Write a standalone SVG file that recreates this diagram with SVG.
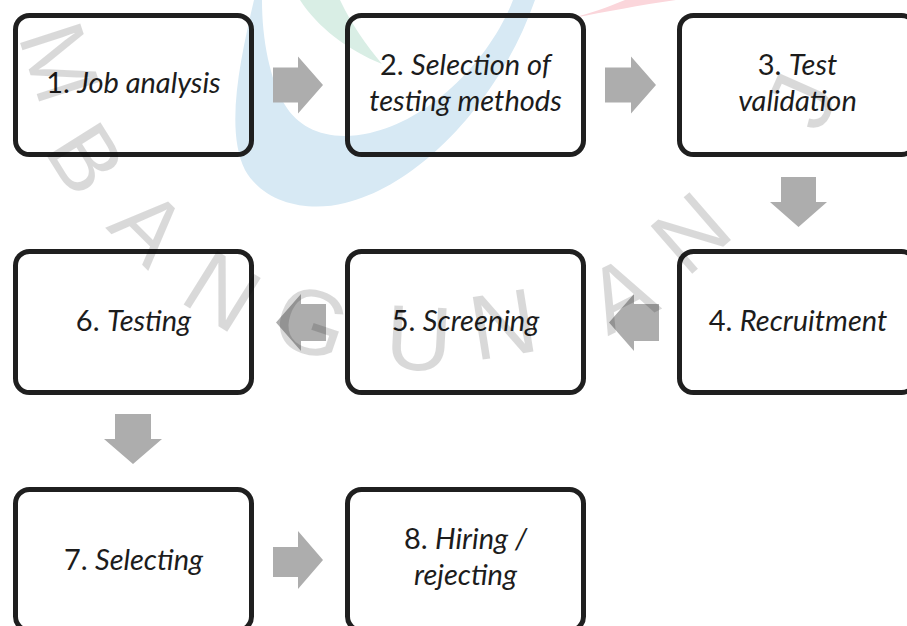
<svg xmlns="http://www.w3.org/2000/svg" width="907" height="626" viewBox="0 0 907 626">
  <style>
    .box { fill: none; stroke: #1f1f1f; stroke-width: 5; }
    .lbl { font-family: Lato, "Open Sans", sans-serif; font-size: 29px; fill: #1c1c1c; text-anchor: middle; }
    .it { font-style: italic; }
    .arr { fill: #adadad; }
    .wm { font-family: "Liberation Sans", Arial, sans-serif; font-size: 92px; fill: #000; fill-opacity: 0.15; text-anchor: middle; }
  </style>
  <rect width="907" height="626" fill="#ffffff"/>

  <g id="logo">
    <path d="M254,0 C240,60 225,130 245,170 C265,205 310,212 345,203 C420,185 500,100 535,0 L513,0 C490,60 430,120 370,133 C330,142 300,130 285,105 C270,80 262,40 262,0 Z" fill="#d7e9f4"/>
    <path d="M300,0 C318,28 348,50 382,64 C366,45 352,25 340,0 Z" fill="#d9eee5"/>
    <path d="M573,18 C605,12 640,5 676,0 L625,0 C606,8 590,13 573,18 Z" fill="#fbd6db"/>
  </g>

  <g id="connectors">
    <polygon class="arr" points="273,67.5 298,67.5 298,56.5 323,85 298,113.5 298,102.5 273,102.5"/>
    <polygon class="arr" points="605,67.5 631,67.5 631,56.5 656,85 631,113.5 631,102.5 605,102.5"/>
    <polygon class="arr" points="781,177 816,177 816,202 827,202 798.5,227 770,202 781,202"/>
    <polygon class="arr" points="659,304 634,304 634,294 609,322.5 634,351 634,341 659,341"/>
    <polygon class="arr" points="326,304 301,304 301,294 276,322.5 301,351 301,341 326,341"/>
    <polygon class="arr" points="115,414 151,414 151,439 162,439 133,464 104,439 115,439"/>
    <polygon class="arr" points="273,547 298,547 298,531 323,560 298,589 298,577 273,577"/>
  </g>

  <g id="n1">
    <rect class="box" x="15.5" y="15.5" width="236" height="139" rx="14"/>
    <text class="lbl" x="133.5" y="93">1. <tspan class="it">Job analysis</tspan></text>
  </g>
  <g id="n2">
    <rect class="box" x="347.5" y="15.5" width="236" height="139" rx="14"/>
    <text class="lbl" x="465.5" y="75">2. <tspan class="it">Selection of</tspan><tspan class="it" x="465.5" y="110.5">testing methods</tspan></text>
  </g>
  <g id="n3">
    <rect class="box" x="679.5" y="15.5" width="236" height="139" rx="14"/>
    <text class="lbl" x="797.5" y="75">3. <tspan class="it">Test</tspan><tspan class="it" x="797.5" y="110.5">validation</tspan></text>
  </g>
  <g id="n4">
    <rect class="box" x="679.5" y="251.5" width="236" height="141" rx="14"/>
    <text class="lbl" x="798" y="331">4. <tspan class="it">Recruitment</tspan></text>
  </g>
  <g id="n5">
    <rect class="box" x="347.5" y="251.5" width="236" height="141" rx="14"/>
    <text class="lbl" x="465.5" y="331">5. <tspan class="it">Screening</tspan></text>
  </g>
  <g id="n6">
    <rect class="box" x="15.5" y="251.5" width="236" height="141" rx="14"/>
    <text class="lbl" x="133.5" y="331">6. <tspan class="it">Testing</tspan></text>
  </g>
  <g id="n7">
    <rect class="box" x="15.5" y="489.5" width="236" height="141" rx="14"/>
    <text class="lbl" x="133.5" y="570">7. <tspan class="it">Selecting</tspan></text>
  </g>
  <g id="n8">
    <rect class="box" x="347.5" y="489.5" width="236" height="141" rx="14"/>
    <text class="lbl" x="465.5" y="549">8. <tspan class="it">Hiring /</tspan><tspan class="it" x="465.5" y="584.5">rejecting</tspan></text>
  </g>

  <g id="watermark" class="wm">
    <text class="wm" transform="translate(61,62) rotate(72)" y="33">M</text>
    <text class="wm" transform="translate(87,158) rotate(58)" y="33">B</text>
    <text class="wm" transform="translate(150,226) rotate(45)" y="33">A</text>
    <text class="wm" transform="translate(223,290) rotate(32)" y="33">N</text>
    <text class="wm" transform="translate(312,321) rotate(19)" y="33">G</text>
    <text class="wm" transform="translate(419,337) rotate(3)" y="33">U</text>
    <text class="wm" transform="translate(503,323) rotate(-9)" y="33">N</text>
    <text class="wm" transform="translate(620,293) rotate(-27)" y="33">A</text>
    <text class="wm" transform="translate(690,232) rotate(-41)" y="33">N</text>
    <text class="wm" transform="translate(800,100) rotate(-66)" y="33">J</text>
  </g>
</svg>
